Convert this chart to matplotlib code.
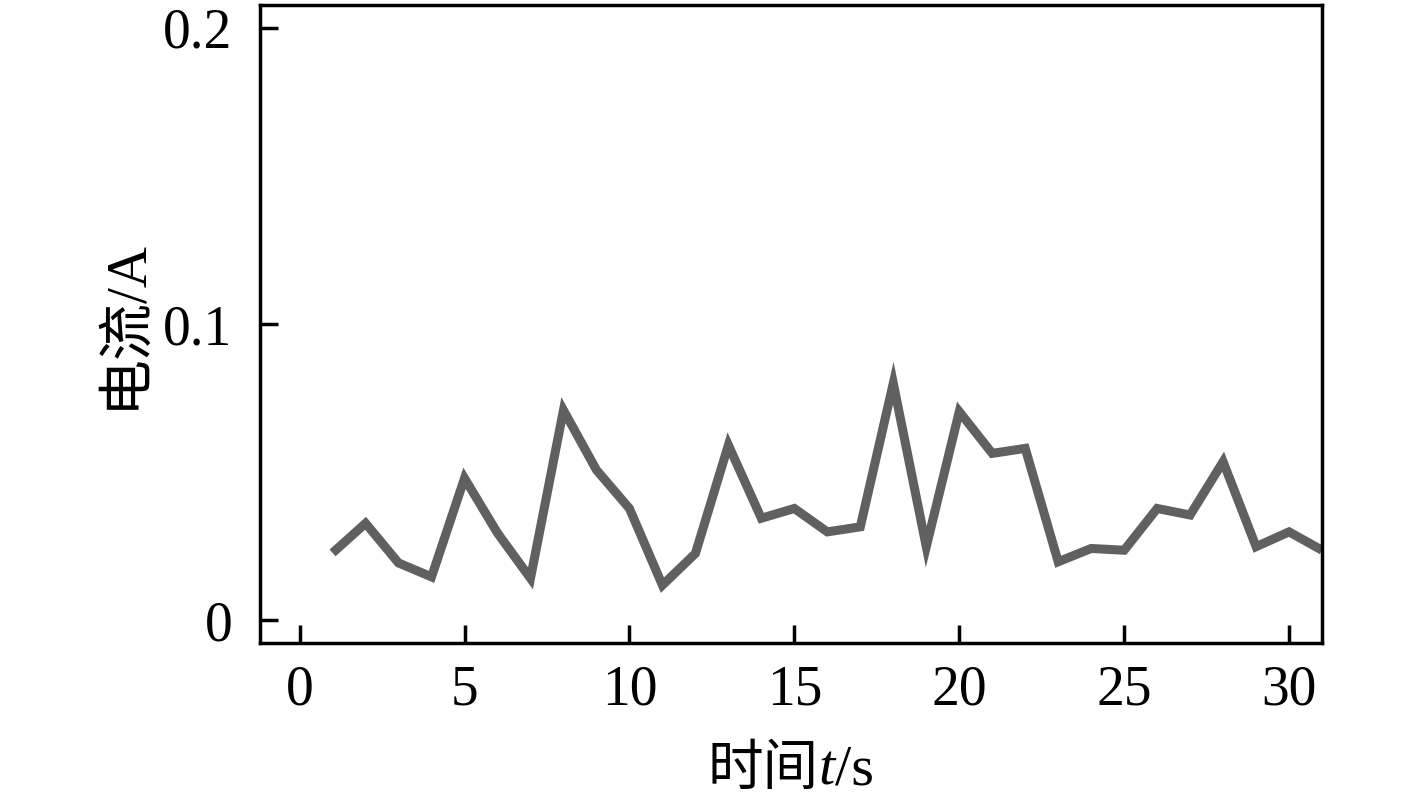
"""
电流随时间变化曲线 (current vs time).
"""

import matplotlib
matplotlib.use("Agg")
import matplotlib.pyplot as plt
from matplotlib.offsetbox import TextArea, HPacker, AnchoredOffsetbox

# ── Datos ─────────────────────────────────────────────────────────────────────
time_s = list(range(1, 32))
current_a = [
    0.0227, 0.0327, 0.0193, 0.0146, 0.0479, 0.0294, 0.0141, 0.0709, 0.0507, 0.0377,
    0.0118, 0.0225, 0.0591, 0.0344, 0.0377, 0.0298, 0.0315, 0.0800, 0.0248, 0.0704,
    0.0563, 0.0580, 0.0197, 0.0242, 0.0236, 0.0377, 0.0355, 0.0535, 0.0248, 0.0298,
    0.0236,
]
x_ticks = [0, 5, 10, 15, 20, 25, 30]
y_ticks = [0, 0.1, 0.2]
y_tick_labels = ["0", "0.1", "0.2"]

SERIF = ["Liberation Serif", "Noto Sans CJK SC"]
plt.rcParams["font.family"] = SERIF

# ── Figura ────────────────────────────────────────────────────────────────────
fig = plt.figure(figsize=(14.17, 8.01), dpi=100)
ax = fig.add_axes([0.1835, 0.197, 0.7495, 0.797])

ax.plot(time_s, current_a, color="#606060", linewidth=6.5,
        solid_joinstyle="miter", solid_capstyle="butt", clip_on=True)

ax.set_xlim(-1.2, 31)
ax.set_ylim(-0.0078, 0.2078)
ax.set_xticks(x_ticks)
ax.set_yticks(y_ticks)
ax.set_yticklabels(y_tick_labels)

for side in ax.spines.values():
    side.set_linewidth(2.5)
ax.tick_params(direction="in", length=13, width=2.5, labelsize=40,
               top=False, right=False, color="black")
ax.tick_params(axis="x", pad=15)
ax.tick_params(axis="y", pad=20)

ax.set_ylabel("电流/A", fontsize=41, family=SERIF, labelpad=8)

# Etiqueta x con la "t" en cursiva
parts = HPacker(children=[
    TextArea("时间", textprops=dict(fontsize=40, family=SERIF)),
    TextArea("t", textprops=dict(fontsize=42, family="Liberation Serif", style="italic")),
    TextArea("/s", textprops=dict(fontsize=42, family="Liberation Serif")),
], align="baseline", pad=0, sep=0)
box = AnchoredOffsetbox(loc="center", child=parts, frameon=False, pad=0,
                        bbox_to_anchor=(0.5, -0.20), bbox_transform=ax.transAxes,
                        borderpad=0)
ax.add_artist(box)

fig.savefig("out.png", dpi=100)
plt.close(fig)
